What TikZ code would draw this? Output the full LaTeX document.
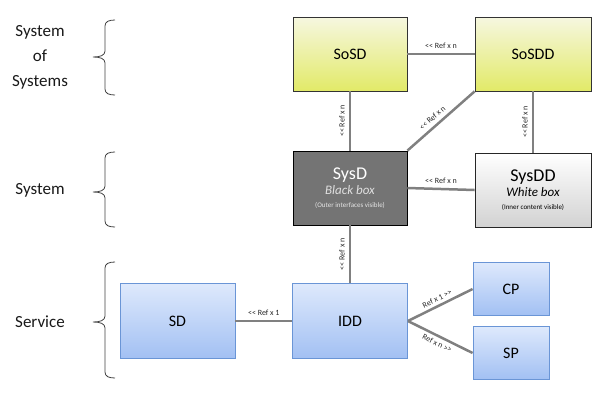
\documentclass[tikz,border=0pt]{standalone}
\usepackage{fontspec}
\setmainfont{Carlito}
\newfontfamily\lblfont{Carlito}[Ligatures=TeXOff]
\definecolor{yTop}{HTML}{F6F7E0}
\definecolor{yMid}{HTML}{EEF1A4}
\definecolor{yBot}{HTML}{E2EA68}
\definecolor{bTop}{HTML}{DEE9FC}
\definecolor{bMid}{HTML}{C4D8F8}
\definecolor{bBot}{HTML}{A2C0F3}
\definecolor{bBorder}{HTML}{6A95D6}
\definecolor{connC}{HTML}{808080}
\definecolor{darkC}{HTML}{747474}
\definecolor{gBot}{HTML}{D2D2D2}
\definecolor{braceC}{HTML}{404040}
\newcommand\leftbrace[3]{% top y, mid y, bottom y
  \draw[bracestyle] (115,#1) .. controls (109,#1) and (105,#1+1.5) .. (105,#1+6)
    -- (105,#2-6) .. controls (105,#2-1.5) and (100,#2) .. (93,#2)
    .. controls (100,#2) and (105,#2+1.5) .. (105,#2+6)
    -- (105,#3-6) .. controls (105,#3-1.5) and (109,#3) .. (115,#3);}
\begin{document}
\begin{tikzpicture}[x=1pt,y=-1pt,
  yellowbox/.style={draw=black!80, line width=0.8pt, top color=yTop, middle color=yMid, bottom color=yBot,
     minimum height=74pt, font=\fontsize{16}{16}\selectfont, inner sep=0pt},
  bluebox/.style={draw=bBorder, line width=0.8pt, top color=bTop, middle color=bMid, bottom color=bBot,
     font=\fontsize{16}{16}\selectfont, inner sep=0pt},
  blackbox/.style={draw=black, line width=0.8pt, fill=darkC, text=white, minimum height=74pt, minimum width=114pt,
     align=center, inner sep=0pt},
  whitebox/.style={draw=black!85, line width=0.8pt, top color=white, bottom color=gBot, minimum height=74pt, minimum width=116pt,
     align=center, inner sep=0pt},
  conn/.style={draw=connC, line width=2.5pt},
  lbl/.style={font=\lblfont\fontsize{8}{8}\selectfont, inner sep=1pt, text=black!85},
  bracestyle/.style={draw=braceC, line width=0.8pt},
  sidelabel/.style={font=\fontsize{17}{25}\selectfont, align=center, text=black!90}
]
\useasboundingbox (0,0) rectangle (604,402);

% left labels and braces
\node[sidelabel] (lsos) at (40,57) {System\\of\\Systems};
\node[sidelabel] (lsys) at (40,190) {System};
\node[sidelabel] (lser) at (40,322) {Service};
\leftbrace{20}{57}{95}
\leftbrace{152}{192}{227}
\leftbrace{262}{322}{378}

% boxes
\node[yellowbox, minimum width=114pt] (sosd) at (350,54) {SoSD};
\node[yellowbox, minimum width=116pt] (sosdd) at (533,54) {SoSDD};
\node[blackbox, yshift=2pt] (sysd) at (350,190) {{\fontsize{18}{18}\selectfont SysD}\\[3pt]
  {\fontsize{13}{13}\selectfont\itshape\color{white!88!black} Black box}\\[1pt]
  {\fontsize{7}{8}\selectfont\color{white!90!black}(Outer interfaces visible)}};
\node[whitebox] (sysdd) at (533,190) {\rule{0pt}{10pt}{\fontsize{18}{18}\selectfont SysDD}\\[3pt]
  {\fontsize{13}{13}\selectfont\itshape White box}\\[1pt]
  {\fontsize{7}{8}\selectfont(Inner content visible)}};
\node[bluebox, minimum width=115pt, minimum height=75pt] (sd) at (177.5,321) {SD};
\node[bluebox, minimum width=115pt, minimum height=75pt] (idd) at (350,321) {IDD};
\node[bluebox, minimum width=76pt, minimum height=53pt] (cp) at (511,289) {CP};
\node[bluebox, minimum width=76pt, minimum height=53pt] (sp) at (511,353) {SP};

% connectors
\draw[conn] (sosd.east) -- node[lbl, above=3pt] {<< Ref x n} (sosdd.west);
\draw[conn] (sysd.north) -- node[lbl, sloped, above=3pt] {<< Ref x n} (sosd.south);
\draw[conn] (sysd.north east) -- node[lbl, sloped, above=3pt, pos=0.45] {<< Ref x n} (sosdd.south west);
\draw[conn] (sysdd.north) -- node[lbl, sloped, above=3pt] {<< Ref x n} (sosdd.south);
\draw[conn] (sysd.east) -- node[lbl, above=3pt] {<< Ref x n} (sysdd.west);
\draw[conn] (idd.north) -- node[lbl, sloped, above=3pt] {<< Ref x n} (sysd.south);
\draw[conn] (sd.east) -- node[lbl, above=3pt] {<< Ref x 1} (idd.west);
\draw[conn] (idd.east) -- node[lbl, sloped, above=2pt] {Ref x 1 >>} (cp.west);
\draw[conn] (idd.east) -- node[lbl, sloped, below=2pt] {Ref x n >>} (sp.west);
\end{tikzpicture}
\end{document}
